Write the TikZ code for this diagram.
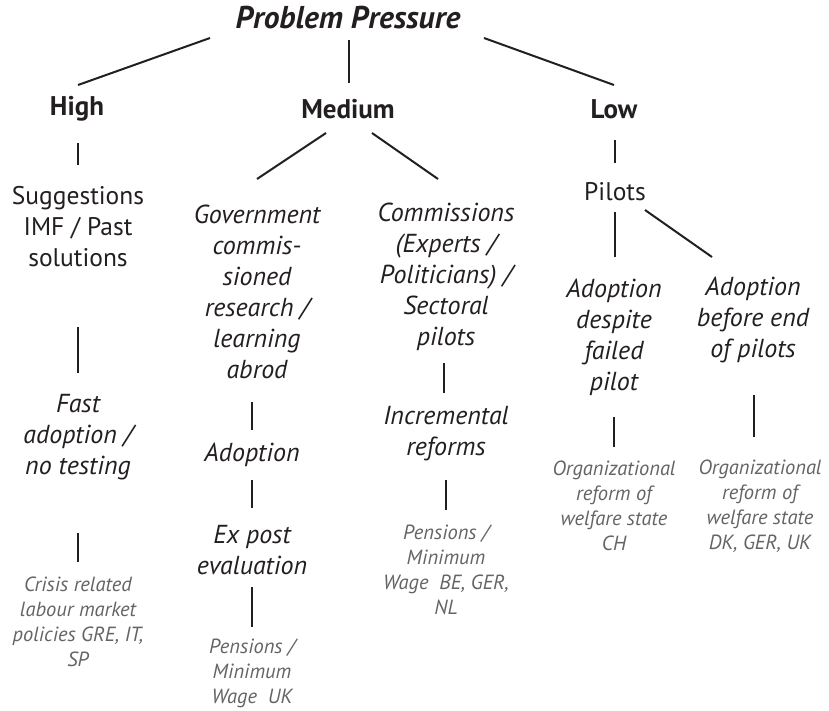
\documentclass[tikz,border=0pt]{standalone}
\usepackage{fontspec}
\setmainfont{PT Sans}
\usetikzlibrary{calc}
\definecolor{inkblack}{RGB}{35,31,32}
\definecolor{casegray}{RGB}{100,100,100}

\begin{document}
\begin{tikzpicture}[x=1pt,y=1pt,
	line width=2pt,draw=inkblack,
	top/.style={text=inkblack,font=\fontsize{31.5}{36}\selectfont\bfseries\itshape,inner sep=0pt},
	level/.style={text=inkblack,font=\fontsize{27}{32}\selectfont\bfseries,inner sep=0pt},
	route/.style={text=inkblack,align=center,font=\fontsize{25.5}{31}\selectfont,inner sep=0pt},
	iroute/.style={route,font=\fontsize{26}{31}\selectfont\itshape},
	cases/.style={text=casegray,align=center,font=\fontsize{20.5}{25}\selectfont\itshape,inner sep=0pt}]
\useasboundingbox (0,0) rectangle (829,-710);
% top level
\node[top] (pp) at (348,-18) {Problem Pressure};
\node[level] (high) at (77,-109) {High};
\node[level] (medium) at (348,-109) {Medium};
\node[level] (low) at (614,-109) {Low};
% high pressure
\node[route] (sugg) at (78,-227) {Suggestions\\IMF / Past\\solutions};
\node[iroute] (fast) at (78,-437) {Fast\\adoption /\\no testing};
\node[cases] (crisis) at (78,-622) {Crisis related\\labour market\\policies GRE, IT,\\SP};
% medium pressure
\node[iroute] (govt) at (257,-292) {Government\\commis-\\sioned\\research /\\learning\\abrod};
\node[iroute] (adopt) at (252,-455) {Adoption};
\node[iroute] (expost) at (252,-550) {Ex post\\evaluation};
\node[cases] (pensuk) at (252,-673) {Pensions /\\Minimum\\Wage~~UK};
\node[iroute] (comm) at (446,-277) {Commissions\\(Experts /\\Politicians) /\\Sectoral\\pilots};
\node[iroute] (incr) at (446,-434) {Incremental\\reforms};
\node[cases] (pensbe) at (446,-570) {Pensions /\\Minimum\\Wage~~BE, GER,\\NL};
% low pressure
\node[route] (pilots) at (615,-192) {Pilots};
\node[iroute] (adespite) at (614,-337) {Adoption\\despite\\failed\\pilot};
\node[iroute] (abefore) at (753,-320) {Adoption\\before end\\of pilots};
\node[cases] (orgch) at (614,-506) {Organizational\\reform of\\welfare state\\CH};
\node[cases] (orgdk) at (760,-506) {Organizational\\reform of\\welfare state\\DK, GER, UK};
% connectors
\draw ($(pp)+(-138,-20)$) -- ($(high)+(1,24)$);
\draw ($(pp)+(1,-22)$) -- ($(medium)+(1,26)$);
\draw ($(pp)+(136,-20)$) -- ($(low)+(0,24)$);
\draw ($(high)+(1,-34)$) -- ($(sugg)+(0,62)$);
\draw ($(medium)+(-22,-24)$) -- ($(govt)+(0,113)$);
\draw ($(medium)+(24,-24)$) -- ($(comm)+(-8,98)$);
\draw ($(low)+(1,-31)$) -- ($(pilots)+(0,29)$);
\draw ($(pilots)+(0,-20)$) -- ($(adespite)+(1,80)$);
\draw ($(pilots)+(30,-18)$) -- ($(abefore)+(-41,63)$);
\draw ($(sugg)+(0,-100)$) -- ($(fast)+(0,64)$);
\draw ($(fast)+(0,-96)$) -- ($(crisis)+(0,60)$);
\draw ($(govt)+(-5,-110)$) -- ($(adopt)+(0,25)$);
\draw ($(adopt)+(0,-25)$) -- ($(expost)+(0,42)$);
\draw ($(expost)+(0,-37)$) -- ($(pensuk)+(0,46)$);
\draw ($(comm)+(-2,-86)$) -- ($(incr)+(-2,41)$);
\draw ($(incr)+(0,-46)$) -- ($(pensbe)+(0,60)$);
\draw ($(adespite)+(0,-80)$) -- ($(orgch)+(0,59)$);
\draw ($(abefore)+(1,-75)$) -- ($(orgdk)+(-6,69)$);
\end{tikzpicture}
\end{document}
